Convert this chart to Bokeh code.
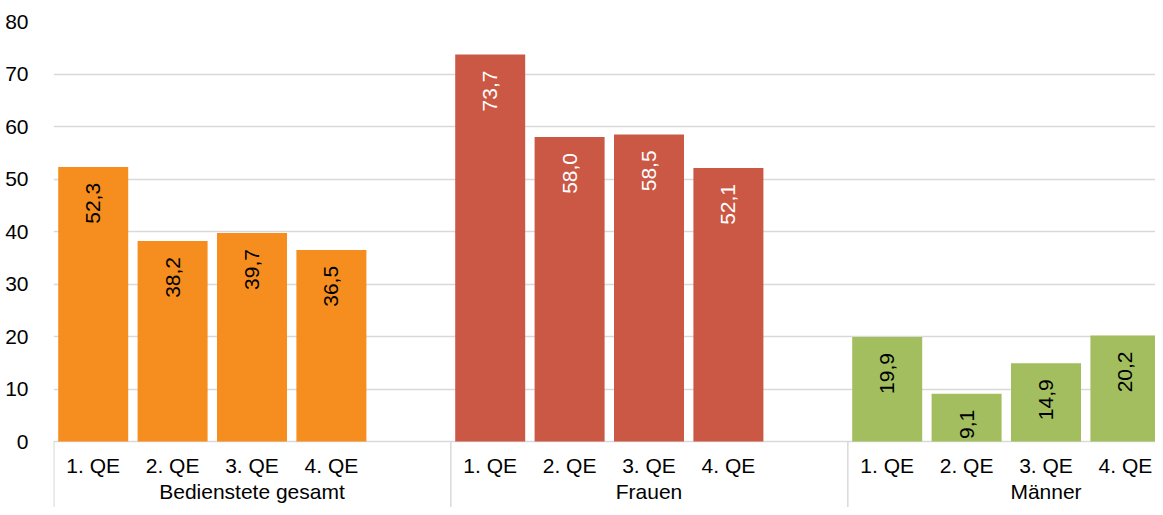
import math
from bokeh.plotting import figure
from bokeh.models import Range1d, FixedTicker, ColumnDataSource
from bokeh.core.properties import value
from bokeh.embed import file_html
from bokeh.resources import INLINE

groups = ["Bedienstete gesamt", "Frauen", "Männer"]
quarters = ["1. QE", "2. QE", "3. QE", "4. QE"]
bedienstete = [52.3, 38.2, 39.7, 36.5]
frauen = [73.7, 58.0, 58.5, 52.1]
maenner = [19.9, 9.1, 14.9, 20.2]
series = [bedienstete, frauen, maenner]
bar_colors = ["#F68E1F", "#CB5845", "#A3BE5F"]
label_colors = ["#000000", "#FFFFFF", "#000000"]
y_ticks = [0, 10, 20, 30, 40, 50, 60, 70, 80]

FONT = value("Liberation Sans")
FS = "21px"
GRID = "#D9D9D9"
SLOTS_PER_GROUP = 5
W, H = 1155, 507
LEFT, TOP = 53, 21
PX_PER_UNIT = 5.25
SLOT_PX = 79.4
Y_BOTTOM = -(H - TOP - 80 * PX_PER_UNIT) / PX_PER_UNIT
X_END = (W - LEFT) / SLOT_PX
BAR_W = 70.0 / SLOT_PX

p = figure(width=W, height=H,
           x_range=Range1d(0, X_END), y_range=Range1d(Y_BOTTOM, 80),
           output_backend="svg", toolbar_location=None,
           x_axis_location=None,
           min_border_left=LEFT, min_border_right=0,
           min_border_top=TOP, min_border_bottom=0)
p.outline_line_color = None
p.background_fill_color = "white"
p.border_fill_color = "white"

for g, vals in enumerate(series):
    xs = [g * SLOTS_PER_GROUP + i + 0.5 for i in range(len(vals))]
    src = ColumnDataSource(dict(
        x=xs, top=vals,
        lab=[f"{v:.1f}".replace(".", ",") for v in vals],
        q=quarters,
    ))
    p.vbar(x="x", top="top", bottom=0, width=BAR_W, source=src,
           fill_color=bar_colors[g], line_color=None)
    p.text(x="x", y="top", text="lab", source=src, angle=math.pi / 2,
           text_align="right", text_baseline="middle", y_offset=16,
           text_font=FONT, text_font_size=FS, text_color=label_colors[g])
    # category labels
    p.text(x="x", y=-4.6, text="q", source=src,
           text_align="center", text_baseline="middle",
           text_font=FONT, text_font_size=FS, text_color="#000000")

# group labels
gsrc = ColumnDataSource(dict(
    x=[g * SLOTS_PER_GROUP + 2.5 for g in range(len(groups))],
    t=groups,
))
p.text(x="x", y=-9.5, text="t", source=gsrc,
       text_align="center", text_baseline="middle",
       text_font=FONT, text_font_size=FS, text_color="#000000")

# group separators
sep_x = [g * SLOTS_PER_GROUP + 0.004 for g in range(len(groups))]
p.segment(x0=sep_x, y0=[0] * len(sep_x), x1=sep_x, y1=[Y_BOTTOM] * len(sep_x),
          line_color=GRID, line_width=1.5)

p.yaxis.ticker = FixedTicker(ticks=y_ticks)
p.yaxis.axis_line_color = None
p.yaxis.major_tick_line_color = None
p.yaxis.minor_tick_line_color = None
p.yaxis.major_label_standoff = 19
p.yaxis.major_label_text_font = "Liberation Sans"
p.yaxis.major_label_text_font_size = FS
p.yaxis.major_label_text_color = "#000000"

p.ygrid.ticker = FixedTicker(ticks=y_ticks)
p.ygrid.grid_line_color = GRID
p.ygrid.grid_line_width = 1.5
p.xgrid.visible = False

open("out.html", "w").write(file_html(p, INLINE))
